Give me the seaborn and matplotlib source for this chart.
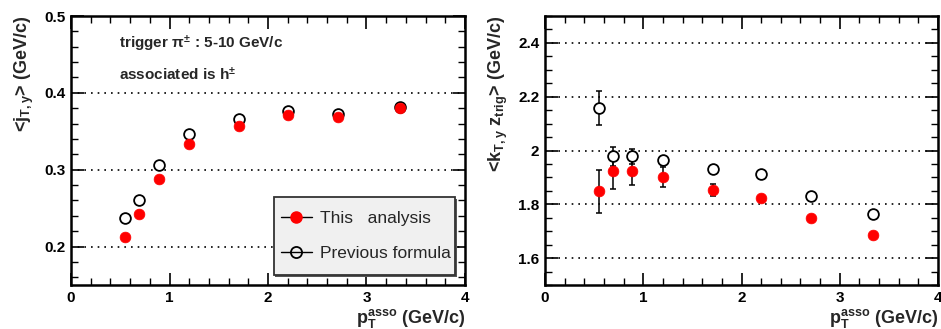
import numpy as np
import pandas as pd
import matplotlib
matplotlib.use("Agg")
import matplotlib.pyplot as plt
from matplotlib.lines import Line2D
from matplotlib.patches import Rectangle
from matplotlib.ticker import MultipleLocator
import seaborn as sns

sns.set_theme(style="white")
plt.rcParams['font.family'] = ['Liberation Sans', 'DejaVu Sans']
plt.rcParams['mathtext.fontset'] = 'custom'
plt.rcParams['mathtext.rm'] = 'Liberation Sans:bold'
plt.rcParams['mathtext.it'] = 'Liberation Sans:bold'
plt.rcParams['mathtext.bf'] = 'Liberation Sans:bold'

pt_asso = [0.55, 0.69, 0.89, 1.20, 1.71, 2.20, 2.71, 3.34]

jt_this = [0.213, 0.243, 0.288, 0.334, 0.357, 0.371, 0.368, 0.380]
jt_prev = [0.237, 0.261, 0.306, 0.347, 0.366, 0.376, 0.372, 0.382]

kt_this = [1.848, 1.923, 1.924, 1.902, 1.853, 1.825, 1.748, 1.686]
kt_this_err = [0.080, 0.065, 0.052, 0.038, 0.022, 0.012, 0.008, 0.006]
kt_prev = [2.157, 1.979, 1.978, 1.963, 1.932, 1.912, 1.831, 1.764]
kt_prev_err = [0.063, 0.035, 0.027, 0.012, 0.008, 0.006, 0.006, 0.006]

label_this = "This   analysis"
label_prev = "Previous formula"

df_left = pd.DataFrame({"pt": pt_asso * 2,
                        "val": jt_this + jt_prev,
                        "series": [label_this] * 8 + [label_prev] * 8})
df_right = pd.DataFrame({"pt": pt_asso * 2,
                         "val": kt_this + kt_prev,
                         "err": kt_this_err + kt_prev_err,
                         "series": [label_this] * 8 + [label_prev] * 8})

W, H = 941, 329
fig = plt.figure(figsize=(W / 100, H / 100), dpi=100)
axL = fig.add_axes([71 / W, 44 / H, 394 / W, 269 / H])
axR = fig.add_axes([545 / W, 44 / H, 393 / W, 269 / H])

red = "#ff0000"
msize = 60
MARKER_HALF = 0.02  # error bars shorter than this stay hidden in the marker


def draw(ax, df, with_err):
    d1 = df[df.series == label_this]
    d2 = df[df.series == label_prev]
    if with_err:
        for d in (d2, d1):
            dv = d[d.err > MARKER_HALF]
            ax.errorbar(dv.pt, dv.val, yerr=dv.err, fmt="none",
                        ecolor="black", elinewidth=1.1, capsize=2.5,
                        capthick=1.1, zorder=2)
    sns.scatterplot(data=d2, x="pt", y="val", ax=ax, marker="o", s=msize,
                    facecolor="white", edgecolor="black", linewidth=1.3,
                    zorder=3, legend=False)
    sns.scatterplot(data=d1, x="pt", y="val", ax=ax, marker="o", s=msize,
                    color=red, edgecolor=red, linewidth=0.5, zorder=4,
                    legend=False)


draw(axL, df_left, False)
draw(axR, df_right, True)


def style(ax, ylim, major, minor):
    ax.set_xlim(0, 4)
    ax.set_ylim(*ylim)
    ax.xaxis.set_major_locator(MultipleLocator(1))
    ax.xaxis.set_minor_locator(MultipleLocator(0.2))
    ax.yaxis.set_major_locator(MultipleLocator(major))
    ax.yaxis.set_minor_locator(MultipleLocator(minor))
    ax.tick_params(which="both", direction="in", top=True, right=True,
                   bottom=True, left=True, colors="black")
    ax.tick_params(which="major", length=9, width=1.2, labelsize=11, pad=4)
    ax.tick_params(which="minor", length=5, width=1.0)
    for lab in ax.get_xticklabels() + ax.get_yticklabels():
        lab.set_fontweight("bold")
    for s in ax.spines.values():
        s.set_linewidth(1.8)
        s.set_color("black")
    ax.yaxis.grid(True, which="major", linestyle=(0, (1, 3)), color="black",
                  linewidth=1.2)
    ax.xaxis.grid(False)
    ax.set_axisbelow(True)


style(axL, (0.15, 0.5), 0.1, 0.02)
style(axR, (1.5, 2.5), 0.2, 0.05)
axR.yaxis.set_major_formatter(matplotlib.ticker.FuncFormatter(
    lambda v, p: "2" if abs(v - 2) < 1e-9 else f"{v:.1f}"))

axL.set_ylabel(r"<j$_{\mathrm{T,y}}$> (GeV/c)", loc="top", fontsize=13,
               fontweight="bold", labelpad=6)
axR.set_ylabel(r"<k$_{\mathrm{T,y}}$ z$_{\mathrm{trig}}$> (GeV/c)", loc="top",
               fontsize=13, fontweight="bold", labelpad=6)
for ax in (axL, axR):
    ax.set_xlabel(r"p$_{\mathrm{T}}^{\mathrm{asso}}$ (GeV/c)", loc="right",
                  fontsize=13, fontweight="bold", labelpad=2)

axL.text(0.122, 0.897, r"trigger $\pi^{\pm}$ : 5-10 GeV/c",
         transform=axL.transAxes, fontsize=11, fontweight="bold",
         va="center", ha="left")
axL.text(0.122, 0.782, r"associated is h$^{\pm}$",
         transform=axL.transAxes, fontsize=11, fontweight="bold",
         va="center", ha="left")

# legend box (ROOT-style grey pave)
box_x0, box_y0, box_w, box_h = 0.515, 0.037, 0.46, 0.29
axL.add_patch(Rectangle((box_x0 + 0.004, box_y0 - 0.008), box_w, box_h,
                        transform=axL.transAxes, facecolor="#555555",
                        edgecolor="none", zorder=9))
axL.add_patch(Rectangle((box_x0, box_y0), box_w, box_h,
                        transform=axL.transAxes, facecolor="#f0f0f0",
                        edgecolor="#333333", linewidth=1.3, zorder=9.5))

handles = [Line2D([0], [0], color="black", lw=1.0, marker="o",
                  markerfacecolor=red, markeredgecolor=red, markersize=8),
           Line2D([0], [0], color="black", lw=1.0, marker="o",
                  markerfacecolor="none", markeredgecolor="black",
                  markersize=8, markeredgewidth=1.3)]
leg = axL.legend(handles, [label_this, label_prev], loc="center left",
                 bbox_to_anchor=(box_x0, box_y0 + box_h / 2),
                 fontsize=12.5, frameon=False,
                 handlelength=1.8, borderpad=0.4, labelspacing=1.1,
                 handletextpad=0.45, borderaxespad=0)
leg.set_zorder(10)

fig.savefig("out.png", dpi=100)
